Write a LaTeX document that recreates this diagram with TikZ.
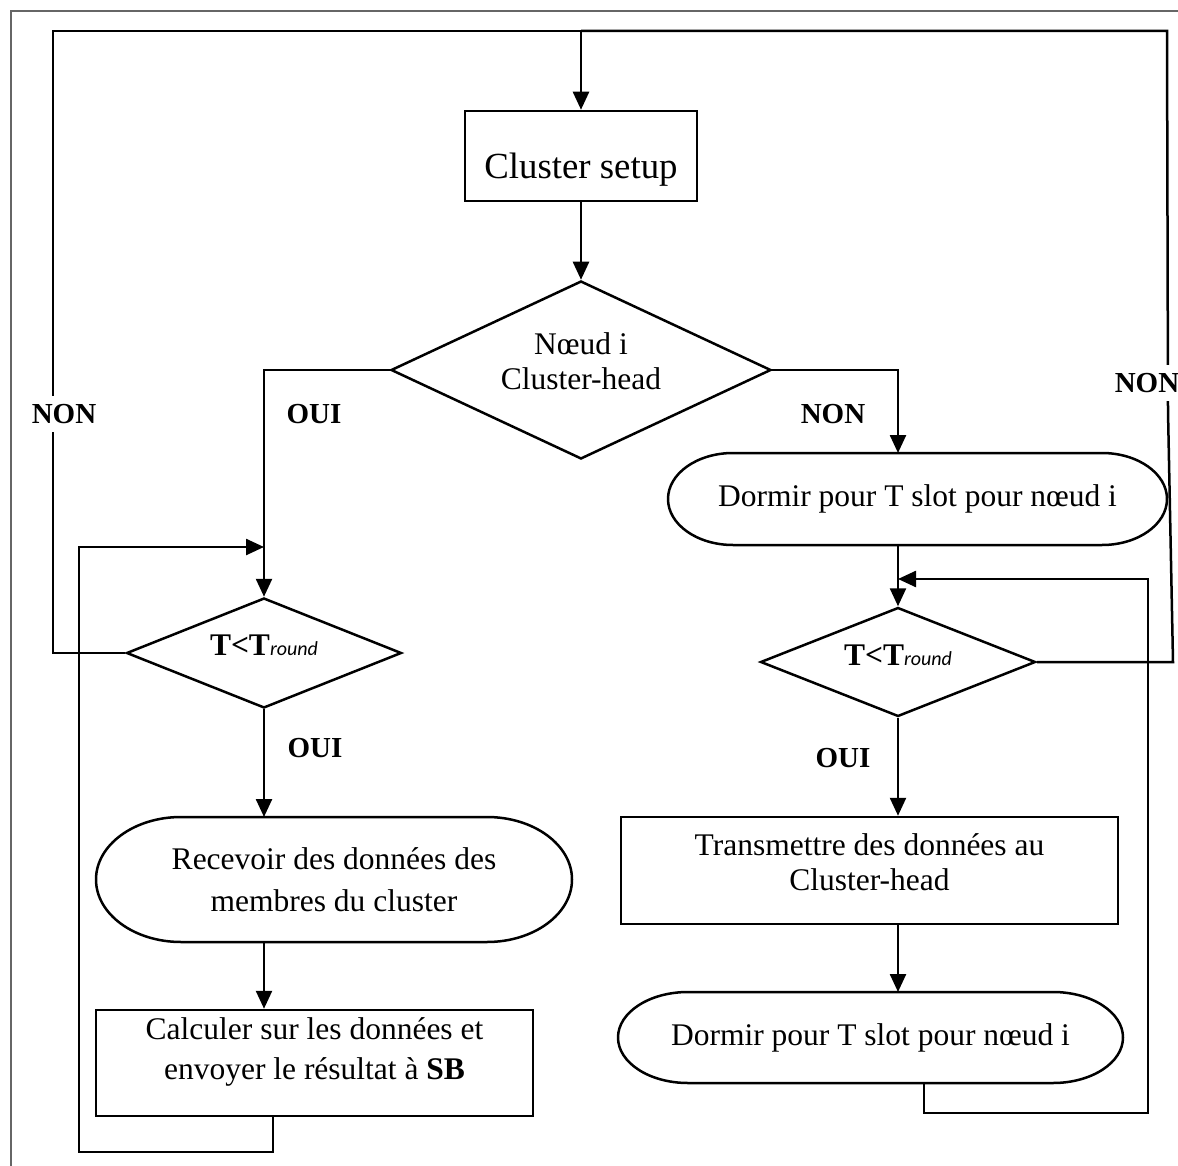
\documentclass[tikz,border=0pt]{standalone}
\usepackage{fontspec}
\setmainfont{Liberation Serif}
\newfontfamily\calfont{Carlito}
\usetikzlibrary{shapes.geometric,arrows.meta}

% capsule outline around a (borderless) node: #1 node, #2 end x-radius, #3 end y-radius
\newcommand\capsule[3]{%
  \draw ([xshift=#2]#1.north west) -- ([xshift=-#2]#1.north east)
    arc[start angle=90,end angle=-90,x radius=#2,y radius=#3]
    -- ([xshift=#2]#1.south west)
    arc[start angle=270,end angle=90,x radius=#2,y radius=#3] -- cycle;}

\newcommand\tround{{\bfseries T<T}{\calfont\itshape\fontsize{10}{12}\selectfont round}}

\begin{document}
\begin{tikzpicture}[x=0.5pt,y=-0.5pt,
  line width=1.25pt,
  arr/.style={-{Triangle[length=9pt,width=8pt]}},
  txt/.style={font=\fontsize{15.75}{20}\selectfont},
  box/.style={draw,rectangle,inner sep=0pt,align=center,txt},
  test/.style={draw,diamond,inner sep=0pt,align=center,txt},
  capnode/.style={rectangle,inner sep=0pt,outer sep=0pt,align=center,txt},
  lbl/.style={font=\bfseries\fontsize{14.5}{17}\selectfont,fill=white,inner xsep=1pt,inner ysep=4pt}]
\useasboundingbox (0,0) rectangle (1178,1166);

% page frame
\draw[gray!80!black,line width=0.7pt] (11,1166) -- (11,11) -- (1178,11);

% nodes
\node[box,minimum width=116pt,minimum height=45pt,
      font=\fontsize{18.4}{22}\selectfont,text height=26.6pt,text depth=4pt]
      (setup) at (581,156) {Cluster setup};
\node[test,aspect=2.13,minimum width=190pt,minimum height=89pt,
      font=\fontsize{15.75}{17.5}\selectfont,text depth=8.6pt]
      (d1) at (581,370) {Nœud i\\Cluster-head};
\node[test,aspect=2.5,minimum width=137.5pt,minimum height=55pt,text depth=8pt]
      (d2) at (264,653) {\tround};
\node[test,aspect=2.5,minimum width=137.5pt,minimum height=54.5pt,text depth=7pt]
      (d3) at (898,662) {\tround};

\node[capnode,minimum width=238pt,minimum height=62.5pt,
      font=\fontsize{15.75}{21}\selectfont]
      (e1) at (334,879.5) {Recevoir des données des\\membres du cluster};
\capsule{e1}{42.5pt}{31.25pt}

\node[capnode,minimum width=249.5pt,minimum height=46pt]
      (e2) at (917.5,499) {Dormir pour T slot pour nœud i};
\capsule{e2}{32.5pt}{23pt}

\node[capnode,minimum width=252.5pt,minimum height=45.5pt]
      (e3) at (870.5,1037.5) {Dormir pour T slot pour nœud i};
\capsule{e3}{35pt}{22.75pt}

\node[box,minimum width=218.5pt,minimum height=53pt,text depth=14.4pt]
      (calc) at (314.5,1063) {Calculer sur les données et\\envoyer le résultat à \textbf{SB}};
\node[box,minimum width=248.5pt,minimum height=53.5pt,
      font=\fontsize{15.75}{17.5}\selectfont,text depth=8.6pt]
      (trans) at (869.5,870.5) {Transmettre des données au\\Cluster-head};

% junction points
\coordinate (topin) at (581,31);
\coordinate (joinL) at (264,547);
\coordinate (joinR) at (898,579);

% main flow
\draw[arr] (topin) -- (setup.north);
\draw[arr] (setup.south) -- (d1.north);
\draw[arr] (d1.west) -| (d2.north);
\draw[arr] (d1.east) -| (e2.north -| d3.north);
\draw[arr] (e2.south -| d3.north) -- (d3.north);
\draw[arr] (d2.south) -- (e1.north -| d2.south);
\draw[arr] (e1.south -| d2.south) -- (calc.north -| d2.south);
\draw[arr] (d3.south) -- (trans.north -| d3.south);
\draw[arr] (trans.south -| d3.south) -- (e3.north -| d3.south);

% loops back to the tests
\draw[arr] (calc.south -| 273,0) -- (273,1152) -- (79,1152) -- (79,547) -- (joinL);
\draw[arr] (e3.south -| 924,0) -- (924,1113) -- (1148,1113) -- (1148,579) -- (joinR);

% NON exits back to the top
\draw (d2.west) -| (53,31) -- (topin);
\draw (d3.east) -- (1173,662) -- (1168,411) -- (1167,31) -- (topin);

% labels
\node[lbl] (nonL) at (64,414) {NON};
\node[lbl] (nonR) at (1147,383) {NON};
\node[lbl] (ouiA) at (314,414) {OUI};
\node[lbl] (nonC) at (833,414) {NON};
\node[lbl] (ouiB) at (315,748) {OUI};
\node[lbl] (ouiC) at (843,758) {OUI};
\end{tikzpicture}
\end{document}
